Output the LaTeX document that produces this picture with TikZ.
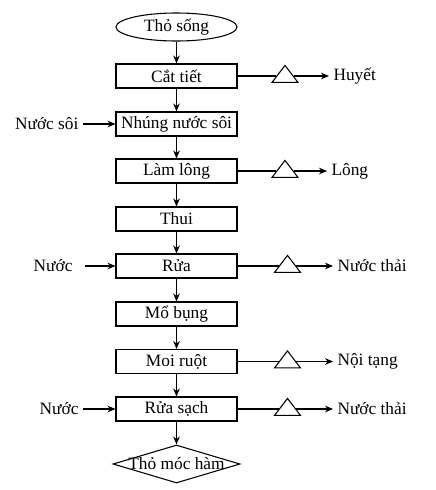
\documentclass[tikz,border=0pt]{standalone}
\usepackage{fontspec}
\setmainfont{Liberation Serif}
\usetikzlibrary{shapes.geometric, arrows.meta, positioning}

\tikzset{
    stepbox/.style={draw, line width=0.8pt, minimum width=90.75pt, minimum height=18pt, inner sep=0pt},
    startnode/.style={draw, ellipse, line width=0.8pt, minimum width=90.75pt, minimum height=21pt, inner sep=1pt},
    endnode/.style={draw, diamond, line width=0.8pt, minimum width=95.25pt, minimum height=28.5pt, inner sep=0pt},
    wastetri/.style={draw, isosceles triangle, isosceles triangle stretches,
        shape border rotate=90, minimum width=19.5pt, minimum height=12.75pt, inner sep=0pt, line width=0.8pt, fill=white},
    sidetext/.style={inner sep=3pt}
}

\begin{document}
\begin{tikzpicture}[x=0.75pt, y=-0.75pt, font=\fontsize{13}{15}\selectfont, >={Stealth[length=6pt, width=5pt]}, line width=0.8pt]
        \useasboundingbox (0,0) rectangle (436,490);

        % Start and end
        \node[startnode] (song) at (176.5,27) {Thỏ sống};
        \node[endnode, label=center:Thỏ móc hàm] (moc) at (176.5,464) {};

        % Process steps
        \node[stepbox] (cat) at (176.5,76) {Cắt tiết};
        \node[stepbox] (nhung) at (176.5,124) {Nhúng nước sôi};
        \node[stepbox] (lam) at (176.5,171) {Làm lông};
        \node[stepbox] (thui) at (176.5,219) {Thui};
        \node[stepbox] (rua) at (176.5,266) {Rửa};
        \node[stepbox] (mo) at (176.5,314) {Mổ bụng};
        \node[stepbox] (moi) at (176.5,361.5) {Moi ruột};
        \node[stepbox] (sach) at (176.5,409) {Rửa sạch};

        % Main flow
        \foreach \a/\b in {song/cat, cat/nhung, nhung/lam, lam/thui, thui/rua, rua/mo, mo/moi, moi/sach, sach/moc}
            \draw[->] (\a) -- (\b);

        % Inputs
        \node[sidetext, anchor=east] (soi) at (83,124) {Nước sôi};
        \node[sidetext, anchor=east] (nuoc1) at (77,266) {Nước};
        \node[sidetext, anchor=east] (nuoc2) at (83,409) {Nước};
        \draw[->] (soi) -- (nhung);
        \draw[->, shorten <=6pt] (nuoc1) -- (rua);
        \draw[->] (nuoc2) -- (sach);

        % Wastes
        \node[wastetri] (t1) at (285,76) {};
        \node[wastetri] (t2) at (285,171) {};
        \node[wastetri] (t3) at (287.5,266) {};
        \node[wastetri] (t4) at (287.5,361.5) {};
        \node[wastetri] (t5) at (287.5,409) {};
        \node[sidetext, anchor=west] (huyet) at (329,76) {Huyết};
        \node[sidetext, anchor=west] (long) at (327,171) {Lông};
        \node[sidetext, anchor=west] (thai1) at (333,266) {Nước thải};
        \node[sidetext, anchor=west] (tang) at (333,361.5) {Nội tạng};
        \node[sidetext, anchor=west] (thai2) at (333,409) {Nước thải};
        \foreach \s/\t/\o in {cat/t1/huyet, lam/t2/long, rua/t3/thai1, moi/t4/tang, sach/t5/thai2} {
            \draw (\s) -- (\t);
            \draw[->] (\t) -- (\o);
        }
    \end{tikzpicture}
\end{document}
